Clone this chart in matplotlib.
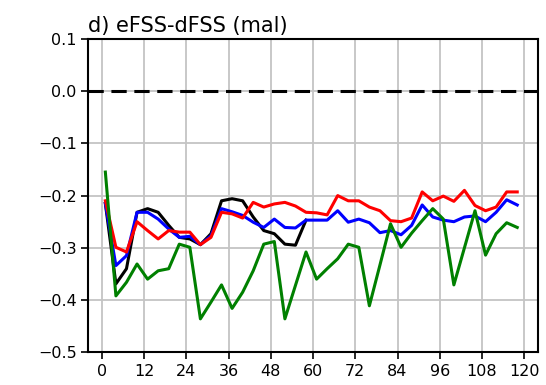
import matplotlib
matplotlib.use('Agg')
import matplotlib.pyplot as plt

# forecast lead time (h)
hours = [1, 4, 7, 10, 13, 16, 19, 22, 25, 28, 31, 34, 37, 40, 43, 46, 49, 52, 55, 58,
         61, 64, 67, 70, 73, 76, 79, 82, 85, 88, 91, 94, 97, 100, 103, 106, 109, 112, 115, 118]

black = [-0.215, -0.369, -0.340, -0.232, -0.225, -0.232, -0.257, -0.280, -0.283, -0.294,
         -0.273, -0.210, -0.206, -0.210, -0.241, -0.267, -0.273, -0.293, -0.295, -0.247]

blue = [-0.215, -0.334, -0.315, -0.232, -0.232, -0.245, -0.264, -0.280, -0.278, -0.294,
        -0.277, -0.225, -0.231, -0.238, -0.251, -0.261, -0.245, -0.261, -0.262, -0.247,
        -0.247, -0.247, -0.229, -0.251, -0.245, -0.252, -0.271, -0.267, -0.275, -0.257,
        -0.218, -0.241, -0.247, -0.250, -0.241, -0.239, -0.250, -0.232, -0.208, -0.218]

red = [-0.210, -0.299, -0.308, -0.250, -0.267, -0.283, -0.267, -0.270, -0.270, -0.294,
       -0.280, -0.232, -0.235, -0.243, -0.213, -0.222, -0.216, -0.213, -0.220, -0.232,
       -0.233, -0.237, -0.200, -0.210, -0.210, -0.222, -0.229, -0.248, -0.250, -0.243,
       -0.193, -0.210, -0.201, -0.211, -0.190, -0.219, -0.229, -0.222, -0.193, -0.193]

green = [-0.155, -0.392, -0.366, -0.331, -0.360, -0.344, -0.340, -0.293, -0.299, -0.436,
         -0.404, -0.371, -0.416, -0.385, -0.344, -0.293, -0.288, -0.436, -0.372, -0.308,
         -0.360, -0.340, -0.321, -0.293, -0.299, -0.411, -0.333, -0.254, -0.299, -0.272,
         -0.248, -0.225, -0.245, -0.371, -0.300, -0.229, -0.314, -0.273, -0.252, -0.261]

xticks = [0, 12, 24, 36, 48, 60, 72, 84, 96, 108, 120]
yticks = [-0.5, -0.4, -0.3, -0.2, -0.1, 0.0, 0.1]

fig = plt.figure(figsize=(5.46, 3.85), dpi=100)
ax = fig.add_axes([0.162, 0.085, 0.824, 0.814])

ax.plot(hours[:len(black)], black, color='k', lw=2.2)
ax.plot(hours, blue, color='b', lw=2.2)
ax.plot(hours, red, color='r', lw=2.2)
ax.plot(hours, green, color='g', lw=2.2)
ax.axhline(0, color='k', lw=2.2, ls=(0, (5, 2.5)))

ax.set_xlim(-3.8, 124)
ax.set_ylim(-0.5, 0.1)
ax.set_xticks(xticks)
ax.set_yticks(yticks)
ax.tick_params(labelsize=11.5, length=5, width=1.2)
ax.grid(color='#c4c4c4', lw=1.3)
for s in ax.spines.values():
    s.set_linewidth(1.5)

ax.set_title('d) eFSS-dFSS (mal)', loc='left', fontsize=15, pad=5)

fig.savefig('out.png', dpi=100)
